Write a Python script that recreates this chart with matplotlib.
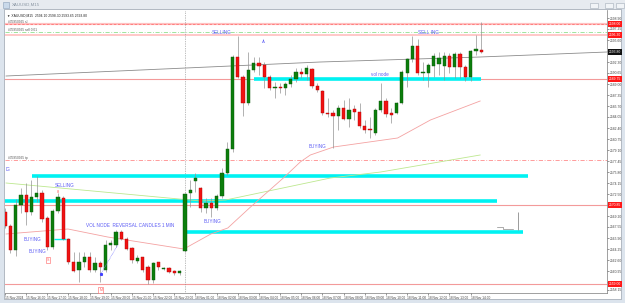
import matplotlib
matplotlib.use("Agg")
import matplotlib.pyplot as plt
from matplotlib.patches import Rectangle
from matplotlib.transforms import blended_transform_factory

plt.rcParams['font.family'] = ['Liberation Sans', 'DejaVu Sans']

# XAUUSD M15 candles (bar 0 = 15 Nov 15:00)
opens = [2569.80, 2567.70, 2564.10, 2570.85, 2572.35, 2569.80, 2572.05, 2572.65, 2568.90, 2564.55,
         2569.95, 2571.90, 2565.75, 2562.30, 2561.10, 2562.30, 2563.05, 2561.10, 2562.15, 2561.10,
         2564.85, 2564.85, 2566.80, 2565.75, 2564.40, 2562.45, 2563.05, 2561.55, 2559.60, 2562.30,
         2561.25, 2561.40, 2560.95, 2560.65, 2563.95, 2572.65, 2574.45, 2573.40, 2570.40, 2571.15,
         2570.40, 2572.20, 2575.65, 2579.25, 2593.05, 2590.05, 2586.15, 2591.10, 2592.15, 2591.85,
         2590.05, 2588.40, 2588.55, 2588.40, 2589.00, 2589.75, 2590.80, 2590.50, 2591.25, 2588.70,
         2587.95, 2584.65, 2584.65, 2584.20, 2585.40, 2583.75, 2585.25, 2584.80, 2582.70, 2582.25,
         2581.65, 2585.10, 2586.45, 2584.65, 2584.65, 2586.15, 2590.65, 2592.75, 2594.70, 2590.65,
         2590.65, 2591.70, 2592.00, 2591.70, 2593.20, 2591.55, 2593.50, 2591.55, 2590.05, 2593.95,
         2594.10]
highs = [2570.40, 2568.00, 2571.75, 2573.40, 2574.15, 2574.60, 2575.20, 2573.10, 2569.20, 2570.25,
         2572.65, 2572.20, 2565.90, 2563.80, 2563.80, 2563.80, 2563.80, 2563.05, 2562.45, 2565.60,
         2565.60, 2567.10, 2567.10, 2566.05, 2564.55, 2563.35, 2563.05, 2561.85, 2562.30, 2562.30,
         2561.55, 2561.55, 2561.10, 2561.10, 2572.65, 2574.60, 2575.65, 2573.55, 2571.90, 2571.90,
         2572.50, 2576.40, 2580.30, 2593.35, 2596.20, 2590.35, 2593.80, 2593.05, 2593.05, 2592.30,
         2590.35, 2589.30, 2589.15, 2589.30, 2590.35, 2591.40, 2591.40, 2591.85, 2591.40, 2589.15,
         2588.10, 2586.90, 2585.10, 2585.85, 2586.60, 2586.90, 2585.85, 2586.15, 2583.60, 2584.05,
         2585.40, 2589.15, 2586.90, 2585.40, 2586.30, 2591.10, 2592.90, 2596.20, 2595.75, 2592.30,
         2592.15, 2593.65, 2593.80, 2593.80, 2593.65, 2593.80, 2593.80, 2591.85, 2594.10, 2596.35,
         2598.30]
lows = [2567.40, 2563.65, 2563.20, 2569.65, 2567.85, 2569.35, 2571.30, 2568.30, 2564.10, 2564.25,
        2569.65, 2565.60, 2562.00, 2560.80, 2559.30, 2561.55, 2560.80, 2560.80, 2559.30, 2560.80,
        2564.10, 2564.55, 2565.60, 2564.10, 2562.15, 2562.15, 2560.80, 2559.00, 2559.15, 2561.10,
        2561.10, 2560.65, 2560.35, 2560.35, 2563.80, 2570.55, 2572.80, 2569.80, 2569.65, 2569.05,
        2570.10, 2571.90, 2575.35, 2578.80, 2589.90, 2584.20, 2585.85, 2590.80, 2590.35, 2588.40,
        2588.10, 2586.90, 2587.65, 2587.35, 2588.55, 2589.30, 2589.90, 2589.60, 2588.40, 2587.80,
        2584.35, 2584.05, 2579.40, 2582.10, 2583.60, 2582.55, 2583.60, 2582.40, 2581.65, 2580.90,
        2581.35, 2584.80, 2584.05, 2583.15, 2584.50, 2586.00, 2588.55, 2592.30, 2590.35, 2589.60,
        2588.55, 2590.05, 2590.35, 2589.60, 2590.65, 2589.90, 2589.90, 2589.45, 2589.45, 2593.35,
        2593.65]
closes = [2567.70, 2564.10, 2570.85, 2572.35, 2569.80, 2572.05, 2572.65, 2568.75, 2564.55, 2569.95,
          2572.05, 2565.75, 2562.30, 2560.95, 2562.30, 2563.05, 2561.10, 2562.15, 2561.55, 2564.85,
          2565.15, 2566.80, 2565.75, 2564.25, 2562.60, 2562.90, 2561.10, 2559.60, 2562.15, 2561.55,
          2561.40, 2560.80, 2560.65, 2560.95, 2572.50, 2573.10, 2574.90, 2570.40, 2571.15, 2570.40,
          2572.20, 2575.65, 2579.25, 2593.05, 2590.05, 2586.15, 2591.10, 2592.15, 2591.70, 2590.05,
          2588.40, 2588.55, 2588.40, 2589.00, 2589.75, 2590.80, 2590.50, 2591.40, 2588.70, 2588.10,
          2584.65, 2584.50, 2584.20, 2585.40, 2583.75, 2585.10, 2584.80, 2582.70, 2582.10, 2582.10,
          2585.10, 2586.45, 2584.50, 2584.35, 2586.15, 2590.80, 2592.75, 2594.70, 2590.65, 2590.80,
          2591.85, 2593.20, 2592.90, 2593.20, 2591.55, 2593.50, 2591.55, 2590.05, 2593.95, 2594.25,
          2593.80]

time_tick_bars = [0, 4, 8, 12, 16, 20, 24, 28, 32, 36, 40, 44, 48, 52, 56, 60, 64, 68, 72, 76, 80, 84, 88]
time_labels = ['15 Nov 2024', '15 Nov 16:00', '15 Nov 17:00', '15 Nov 18:00', '15 Nov 19:00',
               '15 Nov 20:00', '15 Nov 21:00', '15 Nov 22:00', '15 Nov 23:00', '18 Nov 01:00',
               '18 Nov 02:00', '18 Nov 03:00', '18 Nov 04:00', '18 Nov 05:00', '18 Nov 06:00',
               '18 Nov 07:00', '18 Nov 08:00', '18 Nov 09:00', '18 Nov 10:00', '18 Nov 11:00',
               '18 Nov 12:00', '18 Nov 13:00', '18 Nov 14:00']
price_ticks = [2598.90, 2597.25, 2595.60, 2593.95, 2592.30, 2590.65, 2589.00, 2587.35, 2585.70,
               2584.05, 2582.40, 2580.75, 2579.10, 2577.45, 2575.80, 2574.15, 2572.50, 2570.85,
               2569.20, 2567.55, 2565.90, 2564.25, 2562.60, 2560.95, 2559.30, 2558.15]

# order lines
sl_price = 2598.00
entry_price = 2596.80
tp_price = 2577.60
pale_level = 2596.30
order_text = ['#35950925 sl', '#35950925 sell 0.01', '#35950925 tp']
# support / resistance lines and volume node bands
red_levels = [2589.75, 2570.85, 2559.00]
cyan_levels = [2589.75, 2575.20, 2571.45, 2566.80]
cyan_from = [47.0, 5.1, 0.0, 34.2]
cyan_to = [90.0, 98.9, 93.0, 97.9]
red_boxes = [2598.00, 2596.30, 2589.75, 2570.85, 2559.00]
bid_price = 2593.80

# slow grey line, green and red moving averages (anchor points)
trend_x = [0.2, 34.2, 59.6, 89.8, 113.8]
trend_y = [2590.20, 2591.40, 2592.30, 2593.05, 2593.80]
ma_slow_x = [0.2, 37.0, 41.7, 61.5, 71.0, 89.8]
ma_slow_y = [2574.15, 2571.45, 2571.60, 2574.90, 2575.80, 2578.35]
ma_fast_x = [0.2, 11.9, 19.4, 33.8, 38.9, 42.1, 46.4, 52.6, 55.8, 57.7, 62.1, 74.2, 80.4, 89.8]
ma_fast_y = [2566.50, 2567.25, 2566.05, 2564.25, 2566.50, 2567.40, 2570.55, 2574.90, 2577.30,
             2578.35, 2579.55, 2580.90, 2583.60, 2586.45]

# hand written notes on the chart (bar, price, text)
note_x = [41.0, 80.0, 70.9, 15.3, 3.6, 4.5, 9.4, 37.5, 57.4, 0.1]
note_y = [2596.80, 2596.80, 2590.50, 2567.85, 2565.75, 2563.95, 2573.85, 2568.45, 2579.70, 2576.25]
note_text = ['SELLING', 'SELL ING', 'vol node', 'VOL NODE  REVERSAL CANDLES 1 MIN', 'BUYING',
             'BUYING', 'SELLING', 'BUYING', 'BUYING', 'IG']

W, H = 625, 303
fig = plt.figure(figsize=(W / 100, H / 100), dpi=100)
fig.patch.set_facecolor('#dce4ed')


def fx(px):
    return px / W


def fy(py):
    return 1 - py / H


# window frame + title bar (behind the axes)
fig.add_artist(Rectangle((fx(4), fy(299)), 617 / W, 290 / H, transform=fig.transFigure,
                         facecolor='white', edgecolor='#9aa3ad', lw=0.5, zorder=-5))
fig.add_artist(Rectangle((0, fy(9)), 1, 9 / H, transform=fig.transFigure,
                         facecolor='#e7ebf0', edgecolor='none', zorder=-4))
fig.add_artist(Rectangle((fx(3), fy(7.5)), 6 / W, 5.5 / H, transform=fig.transFigure,
                         facecolor='#c9d9ea', edgecolor='#8aa0b8', lw=0.4, zorder=-3))
fig.text(fx(12), fy(4.8), 'XAUUSD,M15', fontsize=3.2, color='#8a96a3', va='center')
for bx in [590, 605, 616]:
    fig.add_artist(Rectangle((fx(bx), fy(7.5)), 8 / W, 5 / H, transform=fig.transFigure,
                             facecolor='#f1f4f7', edgecolor='#a3adb8', lw=0.4, zorder=-3))

ax = fig.add_axes([fx(5), fy(293), 602 / W, 283 / H])
ax.set_facecolor('white')
ax.set_xlim(0.19, 113.77)
ax.set_ylim(2557.65, 2600.1)

# order lines and levels
ax.axhline(sl_price, color='#ffc0c0', lw=1.6, zorder=1)
ax.axhline(sl_price, color='#ff7474', lw=0.6, ls=(0, (3, 2)), zorder=1)
ax.axhline(entry_price, color='#8fe08f', lw=0.6, ls=(0, (5, 2, 1, 2)), zorder=1)
ax.axhline(pale_level, color='#ffc8c8', lw=1.4, zorder=1)
ax.axhline(tp_price, color='#ff8c8c', lw=0.6, ls=(0, (5, 2, 1, 2)), zorder=1)
for lv in red_levels:
    ax.axhline(lv, color='#f39a9a', lw=0.8, zorder=1)
for lv, a, b in zip(cyan_levels, cyan_from, cyan_to):
    ax.hlines(lv, a, b, color='#00f2f2', lw=2.6, zorder=2)
ax.hlines(2565.75, 9.2, 11.5, color='#00f2f2', lw=1.0, zorder=2)

# session separator
ax.axvline(34, color='#808080', lw=0.5, ls=(0, (1, 1.5)), zorder=1)

ax.plot(trend_x, trend_y, color='#8c8c8c', lw=0.6, zorder=2)
ax.plot(ma_slow_x, ma_slow_y, color='#bde88f', lw=0.6, zorder=2)
ax.plot(ma_fast_x, ma_fast_y, color='#f4a2a2', lw=0.6, zorder=2)

# candles
xs = list(range(len(opens)))
up = [c >= o for o, c in zip(opens, closes)]
bottoms = [min(o, c) for o, c in zip(opens, closes)]
heights = [max(abs(c - o), 0.12) for o, c in zip(opens, closes)]
ax.vlines(xs, lows, highs, color='#929292', lw=0.5, zorder=3)
ax.bar(xs, heights, bottom=bottoms, width=0.62,
       color=['#0c7e0c' if u else '#f01212' for u in up],
       edgecolor=['#075507' if u else '#b00000' for u in up], linewidth=0.3, zorder=4)

# small drawings
ax.plot([18.1, 21.3], [2560.50, 2564.85], color='#7a7aff', lw=0.5, ls=(0, (1, 1)), zorder=5)
ax.plot([18.1], [2560.50], marker='s', ms=1.2, color='#4040ff', zorder=5)
ax.plot([93.0, 94.2, 94.2, 96.0], [2567.55, 2567.55, 2567.30, 2567.30], color='#8c8c8c', lw=0.5)
ax.vlines(97.0, 2567.10, 2569.80, color='#8c8c8c', lw=0.6)

for x, y, t in zip(note_x, note_y, note_text):
    ha = 'center' if t in ('SELLING', 'SELL ING', 'vol node') and y > 2585 else 'left'
    ax.text(x, y, t, fontsize=3.3, color='#5b5bf5', ha=ha, va='center', zorder=6)
ax.text(48.9, 2595.30, 'Å', fontsize=3.2, color='#5b5bf5', ha='center', va='center', zorder=6)
ax.text(10.0, 2572.80, '8', fontsize=2.8, color='#ff5050', ha='center', va='center', zorder=6)
for bx, by, t in [(8.1, 2562.60, 'S'), (18.1, 2558.05, 'M')]:
    ax.text(bx, by, t, fontsize=2.6, color='#ff6060', ha='center', va='center', zorder=6,
            bbox=dict(boxstyle='square,pad=0.25', fc='white', ec='#ff6060', lw=0.4))

# header and order labels
ax.text(0.004, 0.988, '\u25bc XAUUSD,M15  2594.10 2598.30 2593.65 2593.80', transform=ax.transAxes,
        fontsize=2.4, color='#222222', va='top', ha='left')
for lv, t in zip([sl_price, entry_price, tp_price], order_text):
    ax.text(0.5, lv + 0.35, t, fontsize=2.3, color='#555555', va='center', ha='left', zorder=6)

# axes styling
for s in ['top', 'left']:
    ax.spines[s].set_visible(False)
for s in ['right', 'bottom']:
    ax.spines[s].set_color('#7a7a7a')
    ax.spines[s].set_linewidth(0.5)
ax.yaxis.tick_right()
ax.set_yticks(price_ticks)
ax.set_yticklabels([f'{v:.2f}' for v in price_ticks])
ax.tick_params(axis='y', labelsize=2.4, length=1.3, width=0.4, pad=1.0, colors='#444444')
ax.set_xticks(time_tick_bars)
ax.set_xticklabels(time_labels, ha='left')
ax.tick_params(axis='x', labelsize=2.3, length=1.3, width=0.4, pad=0.8, colors='#444444')

trans = blended_transform_factory(ax.transAxes, ax.transData)
for lv in red_boxes:
    ax.text(1.003, lv, f'{lv:.2f}', transform=trans, fontsize=2.4, color='white', va='center',
            ha='left', zorder=10, clip_on=False,
            bbox=dict(boxstyle='square,pad=0.3', fc='#ff1818', ec='none'))
ax.text(1.003, bid_price, f'{bid_price:.2f}', transform=trans, fontsize=2.4, color='white',
        va='center', ha='left', zorder=10, clip_on=False,
        bbox=dict(boxstyle='square,pad=0.3', fc='#111111', ec='none'))

fig.savefig('out.png', dpi=100, facecolor=fig.get_facecolor())
